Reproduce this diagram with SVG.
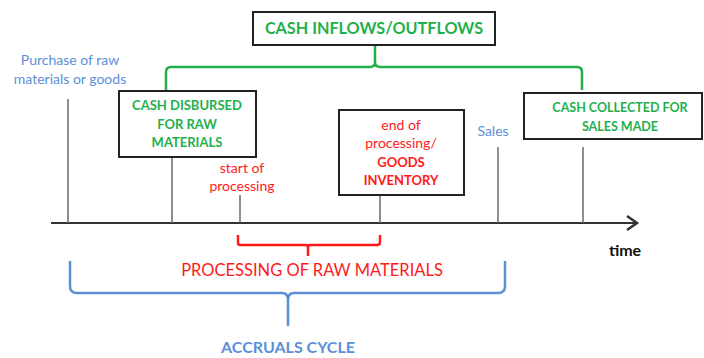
<svg xmlns="http://www.w3.org/2000/svg" width="704" height="358" viewBox="0 0 704 358">
<defs>
<style>
text{font-family:Lato,"Open Sans","Liberation Sans",sans-serif;text-anchor:middle}
.g{fill:#1fb04c;font-weight:bold}
.r{fill:#ff1a1a}
.b{fill:#5b8fd8}
.box{fill:#fff;stroke:#222;stroke-width:2}
.tick{stroke:#6b6b6b;stroke-width:1.5;fill:none}
</style>
</defs>
<rect width="704" height="358" fill="#fff"/>
<g id="connectors" fill="none">
<path d="M375 45 V62 Q375 67 370 67 H171 Q166 67 166 72 V90 M375 62 Q375 67 380 67 H577 Q582 67 582 72 V90" stroke="#1fb04c" stroke-width="2.5"/>
<line x1="51" y1="223" x2="636" y2="223" stroke="#333" stroke-width="2"/>
<path d="M627 216 L637 223 L627 230" stroke="#333" stroke-width="2.5"/>
<path class="tick" d="M68 99 V223 M172 158 V223 M240 195 V223 M380 195 V223 M498 147 V223 M583 147 V223"/>
<path d="M238 235 V243 Q238 245 240 245 H306 Q308 245 308 248 V256 M308 248 Q308 245 310 245 H377 Q380 245 380 242 V235" stroke="#ff1a1a" stroke-width="2.5"/>
<path d="M70 261 V286 Q70 293 77 293 H282 Q288 293 288 300 V326 M288 300 Q288 293 294 293 H498 Q505 293 505 286 V261" stroke="#5b8fd8" stroke-width="2.5"/>
</g>
<g id="n-top">
<rect class="box" x="253" y="12" width="242" height="33"/>
<text class="g" x="374" y="34" font-size="16.2">CASH INFLOWS/OUTFLOWS</text>
</g>
<g id="n-disbursed">
<rect class="box" x="119" y="91" width="137" height="66"/>
<text class="g" font-size="13"><tspan x="187" y="110">CASH DISBURSED</tspan><tspan x="187" y="129">FOR RAW</tspan><tspan x="187" y="147">MATERIALS</tspan></text>
</g>
<g id="n-end">
<rect class="box" x="339" y="110" width="125" height="85"/>
<text class="r" font-size="14"><tspan x="401" y="130">end of</tspan><tspan x="401" y="148">processing/</tspan><tspan x="401" y="167" font-weight="bold" font-size="13">GOODS</tspan><tspan x="401" y="185" font-weight="bold" font-size="13">INVENTORY</tspan></text>
</g>
<g id="n-collected">
<rect class="box" x="524" y="93" width="178" height="46"/>
<text class="g" font-size="12.5"><tspan x="620" y="112">CASH COLLECTED FOR</tspan><tspan x="620" y="131">SALES MADE</tspan></text>
</g>
<g id="n-purchase">
<text class="b" font-size="14"><tspan x="70" y="65">Purchase of raw</tspan><tspan x="70" y="84">materials or goods</tspan></text>
</g>
<g id="n-sales"><text class="b" x="493" y="136" font-size="14">Sales</text></g>
<g id="n-start"><text class="r" font-size="14"><tspan x="242" y="173">start of</tspan><tspan x="242" y="191">processing</tspan></text></g>
<g id="n-time"><text x="625" y="256" font-size="16" font-weight="bold" fill="#111">time</text></g>
<g id="n-processing"><text class="r" x="312" y="276" font-size="16.5">PROCESSING OF RAW MATERIALS</text></g>
<g id="n-accruals"><text class="b" x="288" y="353" font-size="16" font-weight="bold">ACCRUALS CYCLE</text></g>
</svg>
